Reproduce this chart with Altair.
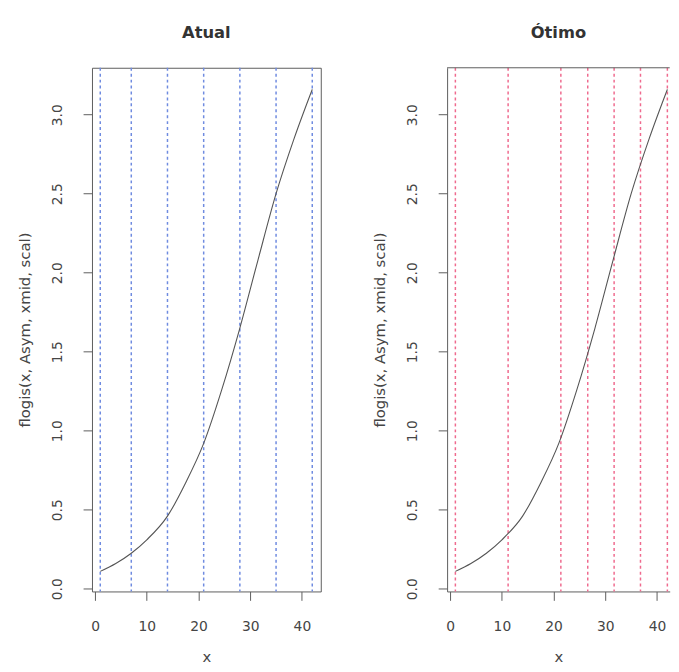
import altair as alt
import pandas as pd

# ---- data ----
curve_x = [1, 4, 7, 10, 14, 17.5, 21, 24.5, 28, 31.5, 35, 38.5, 42]
curve_y = [0.11, 0.16, 0.225, 0.31, 0.46, 0.67, 0.92, 1.26, 1.65, 2.08, 2.50, 2.85, 3.16]
atual_x = [1, 7, 14, 21, 28, 35, 42]
otimo_x = [1, 11.2, 21.4, 26.6, 31.7, 36.8, 42]
x_ticks = [0, 10, 20, 30, 40]
y_ticks = [0.0, 0.5, 1.0, 1.5, 2.0, 2.5, 3.0]
panel_titles = ["Atual", "Ótimo"]
y_title = "flogis(x, Asym, xmid, scal)"
x_title = "x"

curve_df = pd.DataFrame({"x": curve_x, "y": curve_y})
atual_df = pd.DataFrame({"x": atual_x})
otimo_df = pd.DataFrame({"x": otimo_x})
frame_df = pd.DataFrame({"k": [0]})

FONT = "DejaVu Sans"
TEXT = "#454545"
FRAME = "#5c5c5c"
PXU = 5.233          # pixels per x unit
H = 530
X0 = -0.6
Y_DOM = [-0.017, 3.297]


def panel(title, df, color, x_right, boxed):
    width = (x_right - X0) * PXU
    xs = alt.Scale(domain=[X0, x_right], nice=False, zero=False)
    ys = alt.Scale(domain=Y_DOM, nice=False, zero=False)
    xa = alt.Axis(values=x_ticks, title=x_title, grid=False, domain=not boxed,
                  format="d", labelPadding=20, titlePadding=16)
    ya = alt.Axis(values=y_ticks, title=y_title, grid=False, domain=not boxed,
                  format=".1f", labelAngle=270, labelAlign="center",
                  labelBaseline="bottom", labelPadding=19, titlePadding=18.6)
    rules = alt.Chart(df).mark_rule(
        color=color, strokeDash=[3, 3], strokeWidth=1.5
    ).encode(x=alt.X("x:Q", scale=xs, axis=xa))
    line = alt.Chart(curve_df).mark_line(
        color="#555555", strokeWidth=1.1, interpolate="monotone", clip=True
    ).encode(x=alt.X("x:Q", scale=xs, axis=xa),
             y=alt.Y("y:Q", scale=ys, axis=ya))
    layers = [rules, line]
    if not boxed:
        top = alt.Chart(frame_df).mark_rule(color=FRAME, strokeWidth=1).encode(
            x=alt.value(0), x2=alt.value(width), y=alt.value(0))
        layers.append(top)
    return alt.layer(*layers).properties(
        width=width, height=H,
        title=alt.TitleParams(title, baseline="alphabetic", offset=13),
        view=alt.ViewBackground(stroke=FRAME if boxed else "transparent",
                                strokeWidth=1),
    )


left = panel(panel_titles[0], atual_df, "#6f8be0", 43.65, True)
right = panel(panel_titles[1], otimo_df, "#ef6a8e", 42.45, False)

chart = alt.hconcat(left, right, spacing=49.4).properties(
    padding={"left": 8, "top": 12.5, "right": 0, "bottom": 0},
    background="#ffffff",
).configure_axis(
    labelFont=FONT, titleFont=FONT, labelColor=TEXT, titleColor=TEXT,
    labelFontSize=14, titleFontSize=15, titleFontWeight="normal",
    tickColor=FRAME, domainColor=FRAME, tickSize=9, tickWidth=1,
).configure_title(
    font=FONT, fontSize=16.5, fontWeight="bold", color="#333333", anchor="middle"
)

chart.save("out.html", embed_options={"renderer": "svg", "actions": False})
